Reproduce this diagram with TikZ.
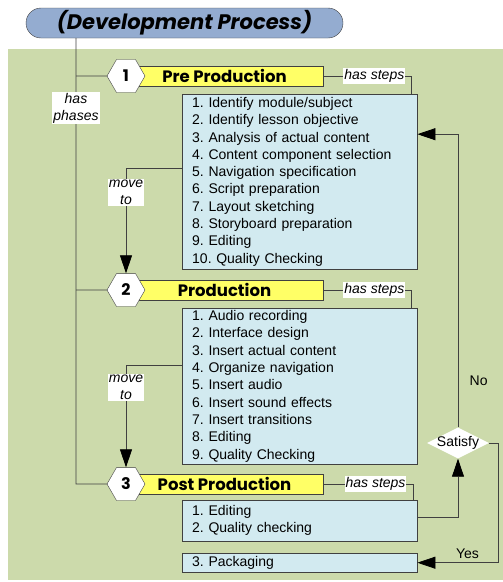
\documentclass[tikz,border=0pt]{standalone}
\usepackage{fontspec}
\setmainfont{Liberation Sans}
\newfontfamily\headfont{Poppins}
\frenchspacing
\usetikzlibrary{shapes.geometric,arrows.meta,calc}
\definecolor{bggreen}{HTML}{CCDAAB}
\definecolor{stepblue}{HTML}{D2EAF0}
\definecolor{titleblue}{HTML}{94ACD0}
\definecolor{baryellow}{HTML}{FFFF66}
\definecolor{linegray}{HTML}{404040}
\tikzstyle{title}=[draw=linegray,fill=titleblue,rounded corners=15pt,minimum width=317pt,minimum height=30pt,inner sep=0pt,font=\headfont\fontsize{21}{24}\selectfont\bfseries\itshape]
\tikzstyle{phase}=[regular polygon,regular polygon sides=6,draw=linegray,fill=white,minimum size=38pt,inner sep=0pt,font=\headfont\fontsize{16}{18}\selectfont\bfseries]
\tikzstyle{bar}=[draw=linegray,fill=baryellow,minimum width=197pt,minimum height=20pt,inner sep=0pt,font=\headfont\fontsize{16.5}{18}\selectfont\bfseries]
\tikzstyle{steps}=[draw=linegray,fill=stepblue,anchor=north west,text width=215pt,inner xsep=10pt,inner ysep=0pt,align=left,font=\fontsize{14}{17.3}\selectfont]
\tikzstyle{tag}=[fill=white,inner sep=1pt,align=center,font=\fontsize{14}{17}\selectfont\itshape]
\tikzstyle{answer}=[font=\fontsize{14}{17}\selectfont]
\tikzstyle{link}=[draw=linegray,line width=0.8pt]
\tikzstyle{arr}=[-{Triangle[length=18pt,width=12pt,black]}]
\tikzstyle{check}=[diamond,aspect=2,fill=white,inner sep=-1pt,font=\fontsize{14}{17}\selectfont]

\begin{document}
\begin{tikzpicture}[x=1pt,y=-1pt]
\useasboundingbox (0,0) rectangle (503,582);
\fill[bggreen] (8,49) rectangle (503,580);
\node[title] at (184.5,23) (title) {(Development Process)};
\coordinate (spine) at (76,0);
\node[bar] at (224.5,76) (barPre) {Pre Production};
\node[phase] at (126,76) (hexPre) {1};
\node[bar] at (224.5,290) (barProd) {Production};
\node[phase] at (126,290) (hexProd) {2};
\node[bar] at (224.5,484) (barPost) {Post Production};
\node[phase] at (126,484) (hexPost) {3};
\node[steps,minimum height=175pt] at (182,94) (stepsPre) {1. Identify module/subject\\2. Identify lesson objective\\3. Analysis of actual content\\4. Content component selection\\5. Navigation specification\\6. Script preparation\\7. Layout sketching\\8. Storyboard preparation\\9. Editing\\10. Quality Checking};
\node[steps,minimum height=156pt] at (182,308) (stepsProd) {1. Audio recording\\2. Interface design\\3. Insert actual content\\4. Organize navigation\\5. Insert audio\\6. Insert sound effects\\7. Insert transitions\\8. Editing\\9. Quality Checking};
\node[steps,minimum height=41pt] at (182,500) (stepsPost) {1. Editing\\2. Quality checking};
\node[steps,minimum height=19pt] at (182,553) (pack) {3. Packaging};
\node[check] at (458,443) (check) {Satisfy};
\draw[link] (title.south -| spine) -- node[tag,pos=0.157] {has\\phases} (spine |- hexPost) -- (hexPost.west);
\draw[link] (spine |- hexPre) -- (hexPre.west);
\draw[link] (spine |- hexProd) -- (hexProd.west);
\draw[link] (barPre.east) -| node[tag,pos=0.29] {has steps} ($(stepsPre.north east)+(-6,0)$);
\draw[link] (barProd.east) -| node[tag,pos=0.29] {has steps} ($(stepsProd.north east)+(-6,0)$);
\draw[link] (barPost.east) -| node[tag,pos=0.29] {has steps} ($(stepsPost.north east)+(-4,0)$);
\draw[link,arr] ([yshift=13.5pt]stepsPre.west) -| node[tag,pos=0.615] {move\\to} (hexProd.north);
\draw[link,arr] ([yshift=21pt]stepsProd.west) -| node[tag,pos=0.61] {move\\to} (hexPost.north);
\draw[link,arr] ([yshift=3.5pt]stepsPost.east) -| (check.south);
\draw[link,arr] (check.north) |- node[answer,pos=0.08,anchor=west,xshift=8pt] {No} ([yshift=47.5pt]stepsPre.east);
\draw[link,arr] (check.east) -- ++(9,0) |- node[answer,pos=0.69,above] {Yes} (pack.east);
\end{tikzpicture}
\end{document}
